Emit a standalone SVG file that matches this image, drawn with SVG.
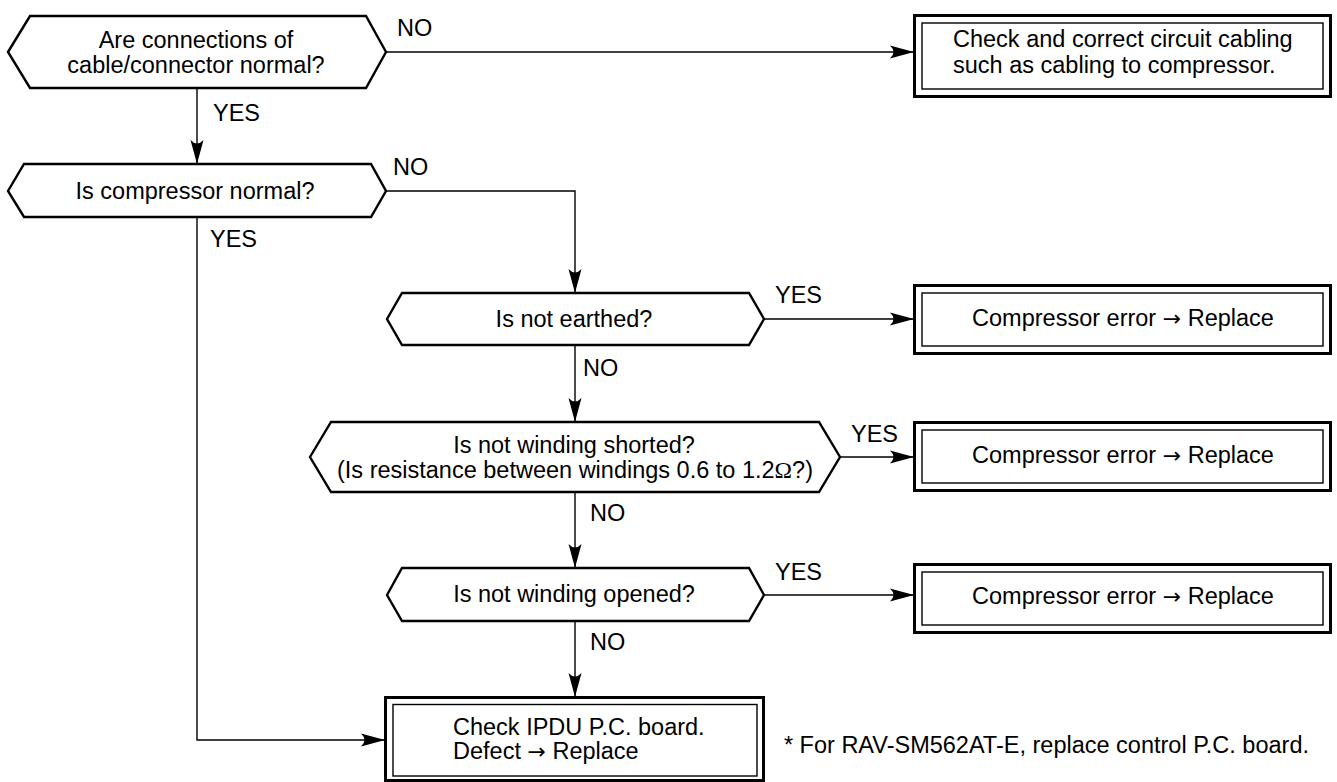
<svg xmlns="http://www.w3.org/2000/svg" width="1337" height="782" viewBox="0 0 1337 782">
<style>
text{font-family:"Liberation Sans",Arial,sans-serif;font-size:23.5px;fill:#000}
.c{text-anchor:middle}
.ar{font-family:"DejaVu Sans",sans-serif;font-size:22px}
.om{font-family:"Liberation Serif","Times New Roman",serif}
.hex{fill:#fff;stroke:#000;stroke-width:2.4;stroke-linejoin:miter}
.outer{fill:#fff;stroke:#000;stroke-width:3}
.inner{fill:none;stroke:#000;stroke-width:1.4}
.ln{fill:none;stroke:#000;stroke-width:1.4}
</style>
<defs>
<marker id="ah" markerUnits="userSpaceOnUse" markerWidth="26" markerHeight="14" refX="24" refY="7" orient="auto" overflow="visible">
<path d="M24,7 Q11,3.5 0,0.5 Q7,7 0,13.5 Q11,10.5 24,7 Z" fill="#000"/>
</marker>
</defs>
<rect width="1337" height="782" fill="#fff"/>

<g id="connectors">
<path class="ln" d="M197,88 V164" marker-end="url(#ah)"/>
<path class="ln" d="M386,52 H914" marker-end="url(#ah)"/>
<path class="ln" d="M386,191 H575 V293" marker-end="url(#ah)"/>
<path class="ln" d="M197,217 V740 H385" marker-end="url(#ah)"/>
<path class="ln" d="M764,319 H914" marker-end="url(#ah)"/>
<path class="ln" d="M575,345 V422" marker-end="url(#ah)"/>
<path class="ln" d="M840,457 H914" marker-end="url(#ah)"/>
<path class="ln" d="M575,492 V568" marker-end="url(#ah)"/>
<path class="ln" d="M764,595 H914" marker-end="url(#ah)"/>
<path class="ln" d="M575,621 V697" marker-end="url(#ah)"/>
<text x="397" y="36">NO</text>
<text x="213" y="121">YES</text>
<text x="393" y="175">NO</text>
<text x="210" y="247">YES</text>
<text x="775" y="303">YES</text>
<text x="583" y="376">NO</text>
<text x="851" y="442">YES</text>
<text x="590" y="521">NO</text>
<text x="775" y="580">YES</text>
<text x="590" y="650">NO</text>
</g>

<g id="q1">
<polygon class="hex" points="8,52 30,16 366,16 386,52 366,88 30,88"/>
<text class="c" x="196" y="48">Are connections of</text>
<text class="c" x="196" y="73">cable/connector normal?</text>
</g>

<g id="a1">
<rect class="outer" x="914.5" y="15.5" width="416" height="81"/>
<rect class="inner" x="922" y="23" width="401" height="66"/>
<text x="953" y="47">Check and correct circuit cabling</text>
<text x="953" y="72.5">such as cabling to compressor.</text>
</g>

<g id="q2">
<polygon class="hex" points="8,191 24,164 371,164 386,191 371,217 24,217"/>
<text class="c" x="195" y="199">Is compressor normal?</text>
</g>

<g id="q3">
<polygon class="hex" points="387,319 402,293 749,293 764,319 749,345 402,345"/>
<text class="c" x="574" y="327">Is not earthed?</text>
</g>

<g id="a2">
<rect class="outer" x="914.5" y="285.5" width="416" height="68"/>
<rect class="inner" x="922" y="293" width="401" height="53"/>
<text class="c" x="1123" y="326">Compressor error <tspan class="ar">→</tspan> Replace</text>
</g>

<g id="q4">
<polygon class="hex" points="310,457 331,422 819,422 840,457 819,492 331,492"/>
<text class="c" x="574" y="453">Is not winding shorted?</text>
<text class="c" x="575" y="478">(Is resistance between windings 0.6 to 1.2<tspan class="om">Ω</tspan>?)</text>
</g>

<g id="a3">
<rect class="outer" x="914.5" y="422.5" width="416" height="68"/>
<rect class="inner" x="922" y="430" width="401" height="53"/>
<text class="c" x="1123" y="463">Compressor error <tspan class="ar">→</tspan> Replace</text>
</g>

<g id="q5">
<polygon class="hex" points="387,595 402,568 749,568 764,595 749,621 402,621"/>
<text class="c" x="574" y="602">Is not winding opened?</text>
</g>

<g id="a4">
<rect class="outer" x="914.5" y="564.5" width="416" height="68"/>
<rect class="inner" x="922" y="572" width="401" height="53"/>
<text class="c" x="1123" y="604">Compressor error <tspan class="ar">→</tspan> Replace</text>
</g>

<g id="a5">
<rect class="outer" x="385.5" y="697.5" width="378" height="83"/>
<rect class="inner" x="393" y="704.5" width="364" height="71.5"/>
<text x="453" y="735">Check IPDU P.C. board.</text>
<text x="453" y="759">Defect <tspan class="ar">→</tspan> Replace</text>
</g>

<g id="note">
<text x="1309" y="753" text-anchor="end">* For RAV-SM562AT-E, replace control P.C. board.</text>
</g>
</svg>
